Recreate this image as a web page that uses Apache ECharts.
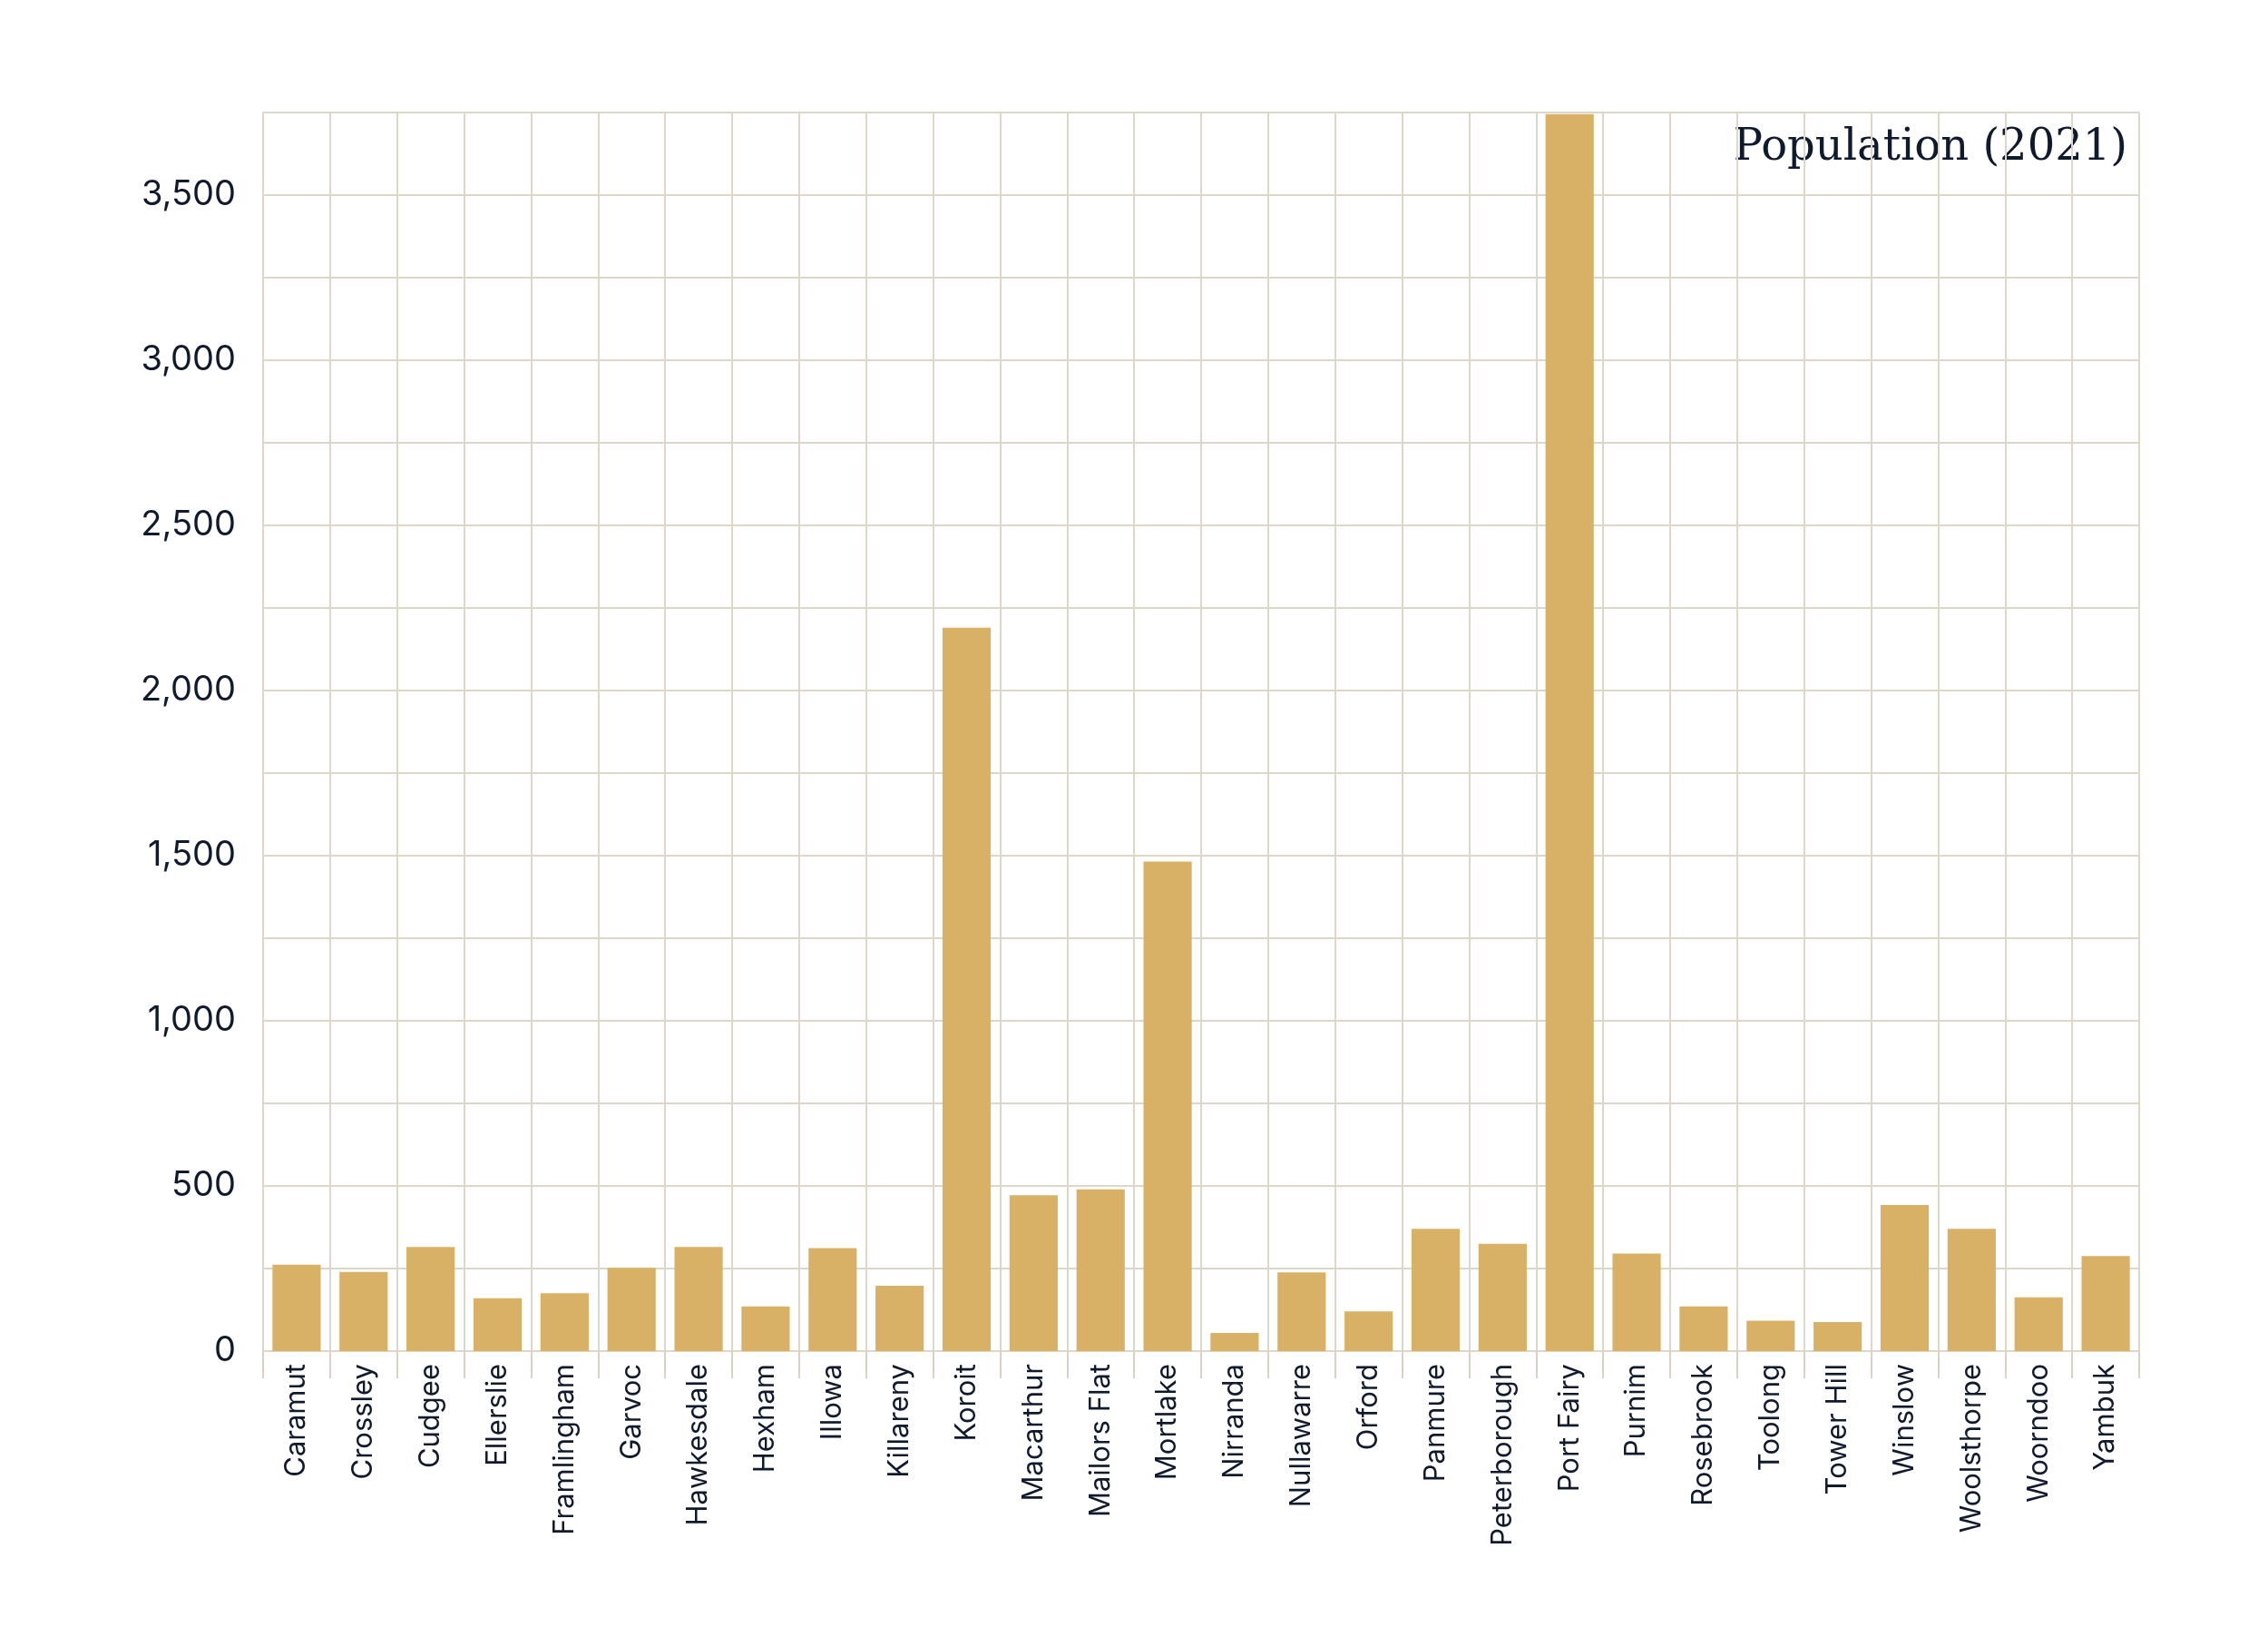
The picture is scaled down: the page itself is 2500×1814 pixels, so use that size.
<!DOCTYPE html>
<html><head><meta charset="utf-8">
<script src="https://cdn.jsdelivr.net/npm/echarts@6/dist/echarts.min.js"></script>
<style>html,body{margin:0;background:#fff}#c{width:2500px;height:1814px}</style>
</head><body><div id="c"></div>
<script>
const categories = ["Caramut","Crossley","Cudgee","Ellerslie","Framlingham","Garvoc","Hawkesdale","Hexham","Illowa","Killareny","Koroit","Macarthur","Mailors Flat","Mortlake","Nirranda","Nullawarre","Orford","Panmure","Peterborough","Port Fairy","Purnim","Rosebrook","Toolong","Tower Hill","Winslow","Woolsthorpe","Woorndoo","Yambuk"];
const population = [262,240,315,160,175,252,315,135,312,198,2190,472,490,1482,55,238,120,370,325,3745,295,135,92,88,442,370,163,288];
const title = "Population (2021)";
const chart = echarts.init(document.getElementById('c'));
chart.setOption({
  animation:false,
  grid:{left:290,right:142,top:124,bottom:325,containLabel:false},
  graphic:[{type:'text',right:155,top:140,style:{text:title,font:'48px "DejaVu Serif", serif',fill:'#0f1b2d'}}],
  xAxis:{type:'category',data:categories,
    axisLine:{show:false},
    axisTick:{show:true,length:30,lineStyle:{color:'#d8d2c4',width:2}},
    splitLine:{show:true,lineStyle:{color:'#ddd7ca',width:2}},
    axisLabel:{rotate:90,fontSize:31,color:'#0f1b2d',fontFamily:'Inter',margin:14,interval:0}},
  yAxis:{type:'value',min:0,max:3750,interval:250,
    axisLine:{show:false},axisTick:{show:false},
    splitLine:{lineStyle:{color:'#ddd7ca',width:2}},
    axisLabel:{fontSize:38,color:'#0f1b2d',fontFamily:'Inter',margin:30,
      formatter:v=> (v%500===0 && v<3750) ? v.toLocaleString('en-US') : ''}},
  series:[{type:'bar',data:population,barWidth:'72%',
    itemStyle:{color:'#d9b166'}}]
});
</script></body></html>
